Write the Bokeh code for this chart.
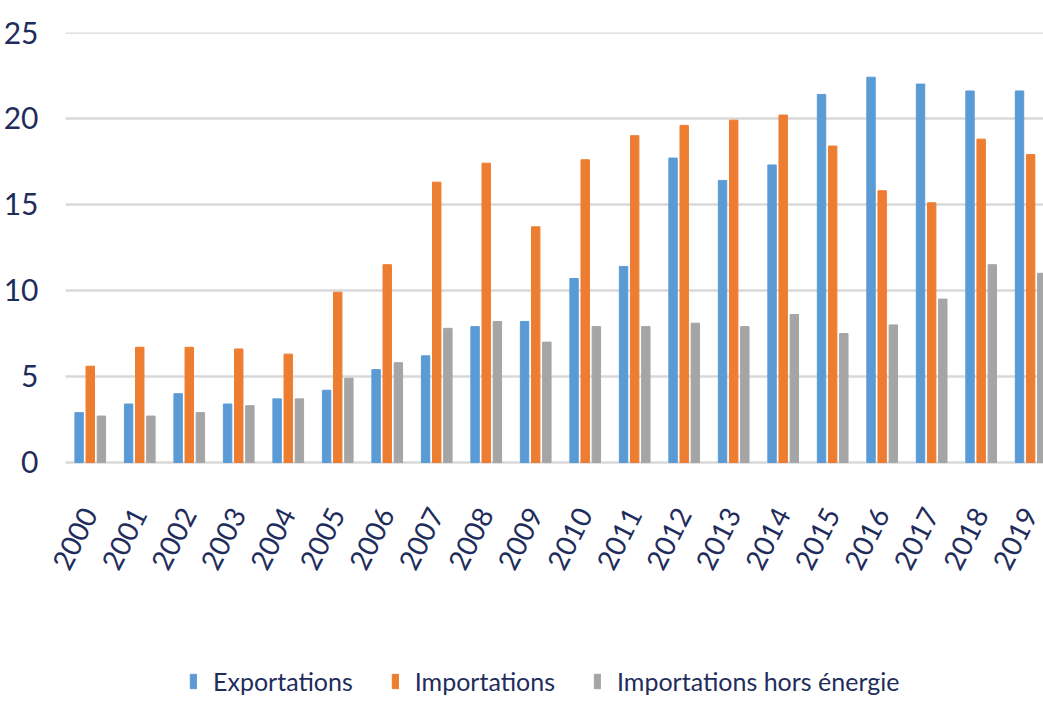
import math

from bokeh.core.properties import value
from bokeh.embed import file_html
from bokeh.models import ColumnDataSource, FixedTicker, Range1d
from bokeh.plotting import figure
from bokeh.resources import INLINE
from bokeh.transform import dodge

# Trade values by year (billions)
years = ["2000", "2001", "2002", "2003", "2004", "2005", "2006", "2007", "2008", "2009",
         "2010", "2011", "2012", "2013", "2014", "2015", "2016", "2017", "2018", "2019"]
exportations = [2.9, 3.4, 4.0, 3.4, 3.7, 4.2, 5.4, 6.2, 7.9, 8.2,
                10.7, 11.4, 17.7, 16.4, 17.3, 21.4, 22.4, 22.0, 21.6, 21.6]
importations = [5.6, 6.7, 6.7, 6.6, 6.3, 9.9, 11.5, 16.3, 17.4, 13.7,
                17.6, 19.0, 19.6, 19.9, 20.2, 18.4, 15.8, 15.1, 18.8, 17.9]
hors_energie = [2.7, 2.7, 2.9, 3.3, 3.7, 4.9, 5.8, 7.8, 8.2, 7.0,
                7.9, 7.9, 8.1, 7.9, 8.6, 7.5, 8.0, 9.5, 11.5, 11.0]
y_ticks = [0, 5, 10, 15, 20, 25]

BLUE = "#5b9bd5"
ORANGE = "#ed7d31"
GREY = "#a5a5a5"
NAVY = "#1f2d5c"
GRID = "#d9d9d9"
FONT = "Lato"

X_START, X_END = -0.965, 19.3   # visible x extent
GRID_START = -0.5               # grid lines begin half a group before the first year

idx = list(range(len(years)))
src = ColumnDataSource(dict(idx=idx, year=years, exp=exportations,
                            imp=importations, hors=hors_energie))

# The frame reaches the bottom of the page so that the year labels and the
# legend sit under the zero line inside it.
p = figure(
    frame_width=1003, frame_height=683,
    x_range=Range1d(X_START, X_END), y_range=Range1d(-14.71, 25),
    output_backend="svg", toolbar_location=None,
    min_border_left=40, min_border_right=0, min_border_top=32, min_border_bottom=0,
)
p.outline_line_color = None
p.background_fill_color = "white"
p.border_fill_color = "white"

# horizontal grid lines at the y ticks (the 0 line is the base line)
grid_src = ColumnDataSource(dict(y=y_ticks))
p.segment(x0=GRID_START, x1=X_END, y0="y", y1="y", source=grid_src,
          line_color=GRID, line_width=2.5, level="underlay")

bw = 0.17
off = 0.225
p.vbar(x=dodge("idx", -off, range=p.x_range), top="exp", width=bw, source=src,
       color=BLUE, legend_label="Exportations")
p.vbar(x=dodge("idx", 0.0, range=p.x_range), top="imp", width=bw, source=src,
       color=ORANGE, legend_label="Importations")
p.vbar(x=dodge("idx", off, range=p.x_range), top="hors", width=bw, source=src,
       color=GREY, legend_label="Importations hors énergie")

# y axis: labels only
p.yaxis.ticker = FixedTicker(ticks=y_ticks)
p.yaxis.axis_line_color = None
p.yaxis.major_tick_line_color = None
p.yaxis.minor_tick_line_color = None
p.yaxis.major_tick_out = 0
p.yaxis.minor_tick_out = 0
p.yaxis.major_label_standoff = 4
p.yaxis.major_label_text_font = FONT
p.yaxis.major_label_text_font_size = "30px"
p.yaxis.major_label_text_color = NAVY
p.ygrid.grid_line_color = None

p.xaxis.visible = False
p.xgrid.grid_line_color = None

# rotated year labels under each group
p.text(x="idx", y=0, text="year", source=src,
       angle=math.radians(63), text_align="right", text_baseline="middle",
       x_offset=-1, y_offset=47,
       text_font=value(FONT), text_font_size=value("28px"), text_color=NAVY)

# legend along the bottom
lg = p.legend[0]
lg.orientation = "horizontal"
lg.location = (147, 19)
lg.padding = 0
lg.margin = 0
lg.spacing = 38
lg.glyph_width = 8
lg.glyph_height = 18
lg.label_standoff = 16
lg.label_text_font = FONT
lg.label_text_font_size = "25px"
lg.label_text_color = NAVY
lg.border_line_color = None
lg.background_fill_alpha = 0

open("out.html", "w").write(file_html(p, INLINE))
